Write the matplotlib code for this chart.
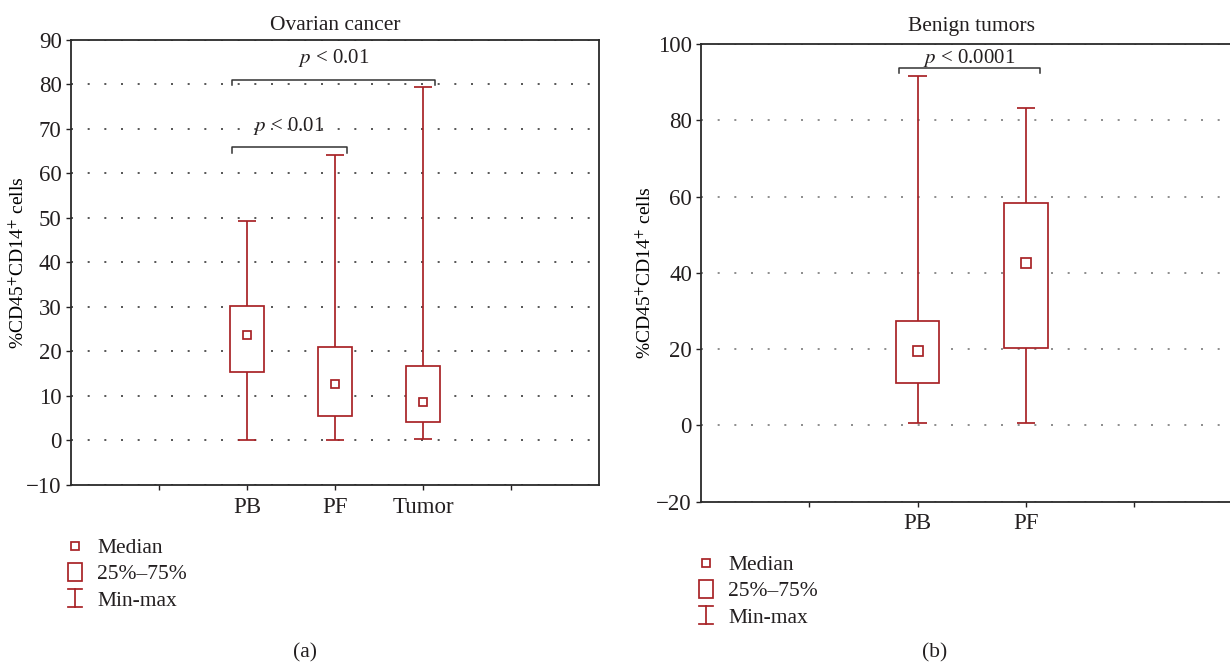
import matplotlib
matplotlib.use("Agg")
import matplotlib.pyplot as plt
from matplotlib.legend_handler import HandlerBase
from matplotlib.lines import Line2D
from matplotlib.patches import Rectangle

# ---- data -------------------------------------------------------------

# Ovarian cancer: %CD45+CD14+ cells per compartment
ov_groups = ["PB", "PF", "Tumor"]
ov_min = [0.0, 0.0, 0.4]
ov_q1 = [15.4, 5.5, 4.2]
ov_median = [23.6, 12.6, 8.6]
ov_q3 = [30.2, 21.0, 16.8]
ov_max = [49.3, 64.0, 79.4]
ov_yticks = [-10, 0, 10, 20, 30, 40, 50, 60, 70, 80, 90]
# (group a, group b, bracket level, label)
ov_tests = [("PB", "Tumor", 81.0, "$p$ < 0.01"),
            ("PB", "PF", 65.9, "$p$ < 0.01")]

# Benign tumors
bn_groups = ["PB", "PF"]
bn_min = [0.6, 0.6]
bn_q1 = [11.0, 20.2]
bn_median = [19.4, 42.7]
bn_q3 = [27.4, 58.2]
bn_max = [91.6, 83.1]
bn_yticks = [-20, 0, 20, 40, 60, 80, 100]
bn_tests = [("PB", "PF", 93.6, "$p$ < 0.0001")]

legend_labels = ["Median", "25%\u201375%", "Min-max"]

# ---- style ------------------------------------------------------------

RED = "#a82226"
INK = "#231f20"
FS = 15.5       # titles, legend
FS_P = 15       # p-value labels
FS_YLAB = 14    # axis label
FS_TICK = 16.5  # tick labels
LW = 1.25

plt.rcParams["font.family"] = ["Liberation Serif", "DejaVu Serif"]
plt.rcParams["mathtext.fontset"] = "stix"
plt.rcParams["font.size"] = FS
plt.rcParams["text.color"] = INK


class IconHandler(HandlerBase):
    """Legend glyphs: small median square, IQR box, min-max whisker."""

    def __init__(self, kind):
        super().__init__()
        self.kind = kind

    def create_artists(self, legend, orig_handle, xdescent, ydescent,
                       width, height, fontsize, trans):
        cx = width / 2 - xdescent
        cy = height / 2 - ydescent
        if self.kind == "median":
            s = 5.6
            return [Rectangle((cx - s / 2, cy - s / 2), s, s, fc="white",
                              ec=RED, lw=LW, transform=trans)]
        if self.kind == "box":
            w, h = 10.0, 13.0
            return [Rectangle((cx - w / 2, cy - h / 2), w, h, fc="white",
                              ec=RED, lw=LW, transform=trans)]
        w, h = 10.0, 13.0
        return [Line2D([cx, cx], [cy - h / 2, cy + h / 2], color=RED, lw=LW, transform=trans),
                Line2D([cx - w / 2, cx + w / 2], [cy + h / 2] * 2, color=RED, lw=LW, transform=trans),
                Line2D([cx - w / 2, cx + w / 2], [cy - h / 2] * 2, color=RED, lw=LW, transform=trans)]


def draw_panel(ax, title, groups, lo, q1, med, q3, hi, yticks, tests,
               n_slots, box_w, cap_w, med_ms, text_gap, drop, title_pad,
               ylabel_x, grid_color):
    pos = {g: i + 2 for i, g in enumerate(groups)}

    for g, a, b, m, c, d in zip(groups, lo, q1, med, q3, hi):
        x = pos[g]
        ax.vlines(x, a, d, color=RED, lw=LW, zorder=3)
        ax.hlines([a, d], x - cap_w / 2, x + cap_w / 2, color=RED, lw=LW, zorder=3)
        ax.add_patch(Rectangle((x - box_w / 2, b), box_w, c - b, fc="white",
                               ec=RED, lw=LW, zorder=4))
        ax.plot(x, m, "s", ms=med_ms, mfc="white", mec=RED, mew=LW, zorder=5)

    for ga, gb, y, label in tests:
        x0, x1 = pos[ga] - 0.17, pos[gb] + 0.13
        ax.plot([x0, x0, x1, x1], [y - drop, y, y, y - drop], color="#333333",
                lw=1.1, zorder=6, clip_on=False)
        ax.text((x0 + x1) / 2, y + text_gap, label, ha="center", va="center",
                fontsize=FS_P, zorder=6)

    ax.set_xlim(0, n_slots)
    ax.set_xticks(range(1, len(groups) + 3))
    ax.set_xticklabels([""] + groups + [""])
    ax.set_ylim(yticks[0], yticks[-1])
    ax.set_yticks(yticks)
    ax.set_yticklabels([str(t).replace("-", "\u2212") for t in yticks])
    ax.grid(axis="y", color=grid_color, lw=1.2, linestyle=(0, (1.2, 8.8)))
    ax.set_axisbelow(True)
    ax.tick_params(axis="both", direction="out", length=3.5, width=1.0,
                   colors=INK, labelsize=FS_TICK, pad=3)
    ax.tick_params(axis="x", pad=5)
    for sp in ax.spines.values():
        sp.set_linewidth(1.3)
        sp.set_color("#2a2a2a")
    ax.set_ylabel("%CD45$^{+}$CD14$^{+}$ cells", fontsize=FS_YLAB)
    ax.yaxis.set_label_coords(ylabel_x, 0.5)
    ax.set_title(title, fontsize=FS, pad=title_pad)


fig = plt.figure(figsize=(12.3, 6.65), dpi=100)

ax_a = fig.add_axes([0.0575, 0.2707, 0.4298, 0.6698])
draw_panel(ax_a, "Ovarian cancer", ov_groups, ov_min, ov_q1, ov_median, ov_q3,
           ov_max, ov_yticks, ov_tests, n_slots=6, box_w=0.39, cap_w=0.20,
           med_ms=6.3, text_gap=4.8, drop=1.3, title_pad=7, ylabel_x=-0.081,
           grid_color="#3a3a3a")

ax_b = fig.add_axes([0.5699, 0.2456, 0.4402, 0.6883])
draw_panel(ax_b, "Benign tumors", bn_groups, bn_min, bn_q1, bn_median, bn_q3,
           bn_max, bn_yticks, bn_tests, n_slots=5, box_w=0.405, cap_w=0.17,
           med_ms=7.5, text_gap=2.7, drop=1.1, title_pad=9, ylabel_x=-0.085,
           grid_color="#7a7a7a")

handles = [Line2D([], []), Rectangle((0, 0), 1, 1), Line2D([], [], ls="-")]
hmap = {handles[0]: IconHandler("median"), handles[1]: IconHandler("box"),
        handles[2]: IconHandler("minmax")}
for anchor in [(64 / 1230, 1 - 536 / 665), (695 / 1230, 1 - 553 / 665)]:
    fig.legend(handles, legend_labels, handler_map=hmap, loc="upper left",
               bbox_to_anchor=anchor, frameon=False, fontsize=FS,
               borderpad=0, borderaxespad=0, handlelength=1.0,
               handleheight=1.0, handletextpad=0.55, labelspacing=0.2)

fig.text(305 / 1230, 1 - 653 / 665, "(a)", ha="center", va="center", fontsize=FS)
fig.text(935 / 1230, 1 - 653 / 665, "(b)", ha="center", va="center", fontsize=FS)

fig.savefig("out.png", dpi=100)
